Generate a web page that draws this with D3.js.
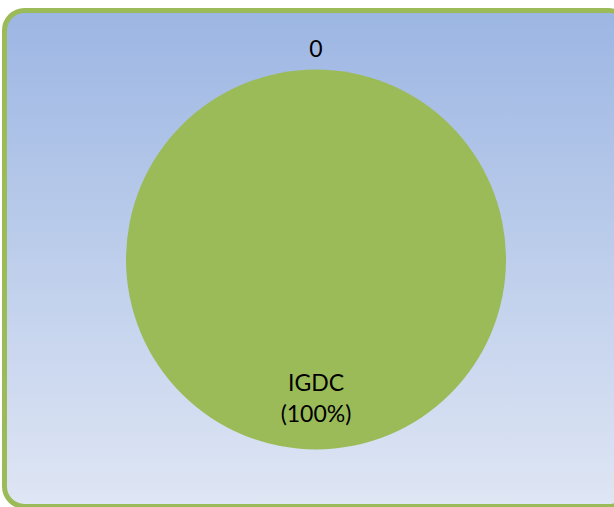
<!DOCTYPE html>
<html>
<head>
<meta charset="utf-8">
<script src="https://cdn.jsdelivr.net/npm/d3@7"></script>
<style>
  html, body { margin: 0; padding: 0; background: #fff; overflow: hidden; }
  text { font-family: Lato, "Open Sans", sans-serif; fill: #000; }
</style>
</head>
<body>
<script>
var categories = ["IGDC", "Other"];
var values = [1, 0];
var labels = ["IGDC\n(100%)", "0"];

var W = 614, H = 507;
var cx = 316, cy = 259.5, r = 190;

var svg = d3.select("body").append("svg")
  .attr("width", W).attr("height", H);

var grad = svg.append("defs").append("linearGradient")
  .attr("id", "bg").attr("x1", 0).attr("y1", 0).attr("x2", 0).attr("y2", 1);
grad.append("stop").attr("offset", "0%").attr("stop-color", "#9cb6e3");
grad.append("stop").attr("offset", "100%").attr("stop-color", "#dfe6f4");

svg.append("rect")
  .attr("x", 4.5).attr("y", 10.5)
  .attr("width", 624).attr("height", 496)
  .attr("rx", 20).attr("ry", 20)
  .attr("fill", "url(#bg)")
  .attr("stroke", "#9bbb59")
  .attr("stroke-width", 5);

var pie = d3.pie().sort(null).value(function(d) { return d; });
var arcs = pie(values);

var arc = d3.arc().innerRadius(0).outerRadius(r);
var inLabel = d3.arc().innerRadius(r * 0.73).outerRadius(r * 0.73);
var outLabel = d3.arc().innerRadius(r + 21).outerRadius(r + 21);

var g = svg.append("g").attr("transform", "translate(" + cx + "," + cy + ")");

g.selectAll("path.slice")
  .data(arcs)
  .enter().append("path")
  .attr("class", "slice")
  .attr("d", arc)
  .attr("fill", function(d, i) { return i === 0 ? "#9bbb59" : "#4f81bd"; });

g.selectAll("text.lbl")
  .data(arcs)
  .enter().append("text")
  .attr("class", "lbl")
  .attr("text-anchor", "middle")
  .attr("font-size", "23px")
  .each(function(d, i) {
    var big = d.endAngle - d.startAngle > 0.5;
    var p = big ? inLabel.centroid(d) : outLabel.centroid(d);
    var lines = labels[i].split("\n");
    var t = d3.select(this);
    var y0 = p[1] - (lines.length - 1) * 15.5 + 8;
    lines.forEach(function(line, k) {
      t.append("tspan").attr("x", p[0]).attr("y", y0 + k * 31).text(line);
    });
  });
</script>
</body>
</html>
